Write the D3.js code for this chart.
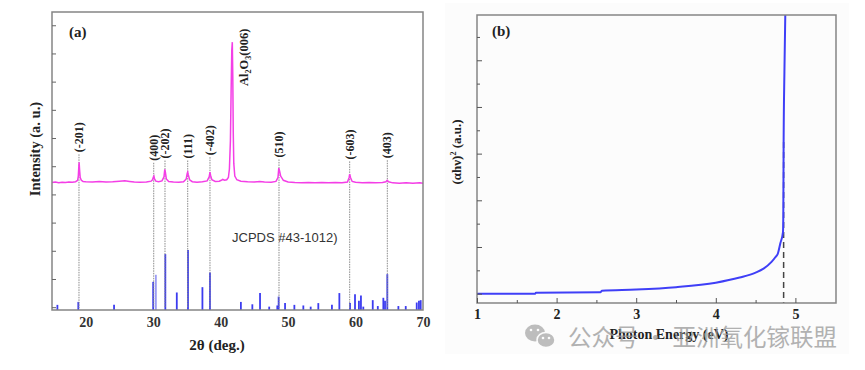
<!DOCTYPE html>
<html>
<head>
<meta charset="utf-8">
<script src="https://cdn.jsdelivr.net/npm/d3@7"></script>
<style>
  body { margin: 0; background: #fff; }
  svg { display: block; }
</style>
</head>
<body>
<svg width="865" height="370"></svg>
<script>
// ---- panel (a): XRD pattern ----
let xrdAngle = [ 15, 15.5, 16, 16.5, 17, 17.5, 18, 18.5, 18.8, 18.9, 18.97, 19.02, 19.08, 19.18, 19.35, 19.6,
  20, 21, 22, 23, 24, 25, 25.8, 26.5, 27.2, 28, 29, 29.7, 29.9, 30.03, 30.1, 30.2, 30.4, 30.8, 31.3, 31.6,
  31.72, 31.8, 31.95, 32.3, 33, 33.8, 34.5, 34.9, 35.05, 35.12, 35.2, 35.4, 35.8, 36.5, 37.3, 38, 38.3,
  38.42, 38.5, 38.7, 39.2, 39.8, 40.1, 40.3, 40.6, 40.9, 41.15, 41.3, 41.45, 41.55, 41.65, 41.73, 41.8,
  41.87, 41.95, 42.1, 42.4, 43, 44, 45, 45.8, 46.5, 47.5, 48.2, 48.5, 48.62, 48.72, 48.9, 49.3, 50, 51,
  52, 53, 54, 55, 56, 57, 58, 58.8, 59.05, 59.13, 59.25, 59.5, 60, 61, 62, 63, 64, 64.5, 64.7, 64.9,
  65.5, 66.5, 67.5, 68.5, 69.5, 70 ]
let xrdIntensity = [ 4.42, 4.44, 4.41, 4.43, 4.42, 4.44, 4.43, 4.45, 4.5, 4.65, 4.95, 5.14, 4.9, 4.6, 4.5, 4.46,
  4.45, 4.44, 4.46, 4.44, 4.45, 4.47, 4.48, 4.46, 4.44, 4.43, 4.44, 4.47, 4.52, 4.62, 4.65, 4.55, 4.47, 4.45, 4.48, 4.62,
  4.89, 4.8, 4.55, 4.46, 4.44, 4.43, 4.45, 4.55, 4.75, 4.79, 4.7, 4.52, 4.45, 4.43, 4.45, 4.48, 4.62,
  4.79, 4.68, 4.52, 4.46, 4.47, 4.5, 4.53, 4.5, 4.52, 4.6, 4.9, 5.9, 7.6, 9.1, 9.4, 8.2,
  6.2, 5.1, 4.65, 4.52, 4.47, 4.45, 4.44, 4.46, 4.44, 4.43, 4.46, 4.6, 4.93, 4.85, 4.65, 4.5, 4.44, 4.42,
  4.41, 4.42, 4.41, 4.42, 4.41, 4.42, 4.41, 4.44, 4.6, 4.72, 4.6, 4.46, 4.43, 4.41, 4.42, 4.41, 4.42, 4.45, 4.5, 4.45,
  4.41, 4.4, 4.41, 4.4, 4.41, 4.4 ]

// JCPDS #43-1012 reference lines (relative intensity)
let refAngle = [ 15.8, 18.9, 24.2, 30.0, 30.4, 31.8, 33.5, 35.16, 37.3, 38.42, 43.0, 44.7, 45.84, 47.2, 48.4, 48.6,
  49.55, 50.93, 52.26, 53.35, 54.48, 56.5, 57.6, 59.18, 59.92, 60.5, 60.8, 61.15, 62.55, 63.3, 64.12, 64.37,
  64.71, 66.35, 67.44, 69.07, 69.4, 69.66 ]
let refIntensity = [ 7, 12, 7, 46, 58, 93, 28, 100, 37, 62, 12, 8, 27, 4, 6, 21,
  10, 7, 6, 4, 10, 7, 27, 10, 25, 14, 23, 4, 15, 5, 19, 14,
  59, 5, 5, 11, 14, 15 ]

let peakLabels = [ '(-201)', '(400)', '(-202)', '(111)', '(-402)', '(510)', '(-603)', '(403)' ]
let peakAngle = [ 19.0, 30.08, 31.75, 35.12, 38.42, 48.65, 59.13, 64.71 ]
let peakLabelTop = [ 5.35, 5.05, 5.13, 5.13, 5.25, 5.17, 5.1, 5.14 ]

let xTicksA = [ 20, 30, 40, 50, 60, 70 ]

// ---- panel (b): Tauc plot ----
let photonEnergy = [ 1.0, 1.73, 1.74, 2.55, 2.57, 3.0, 3.5, 4.0, 4.3, 4.5, 4.6, 4.7, 4.75, 4.78, 4.81, 4.844,
  4.848, 4.852, 4.862, 4.874 ]
let taucValue = [ 0, 0.0, 0.04, 0.06, 0.13, 0.18, 0.28, 0.47, 0.69, 0.9, 1.07, 1.36, 1.57, 1.72, 2.15, 2.64,
  3.4, 6.5, 9.5, 12.2 ]
let bandGap = 4.852
let bandGapTop = 6.5

let xTicksB = [ 1, 2, 3, 4, 5 ]

const serif = '"Liberation Serif", "Times New Roman", serif'
const frameColor = '#858585'

let svg = d3.select( 'svg' )

svg.append( 'rect' )
  .attr( 'x', 445 ).attr( 'y', 3 )
  .attr( 'width', 404 ).attr( 'height', 351 )
  .attr( 'fill', '#fcfcfc' )

// ================= panel (a) =================
let a = { left: 52, right: 423, top: 12, bottom: 310 }

const xA =
d3.scaleLinear()
  .domain( [ 15, 70 ] )
  .range( [ a.left, a.right ] )

const yA =
d3.scaleLinear()
  .domain( [ -0.1, 10.47 ] )
  .range( [ a.bottom, a.top ] )

const yRef =
d3.scaleLinear()
  .domain( [ 0, 100 ] )
  .range( [ a.bottom - 1, a.bottom - 60 ] )

let gA = svg.append( 'g' )

// reference bars
gA.selectAll( '.ref' )
  .data( refAngle )
  .enter()
  .append( 'line' )
  .attr( 'x1', d => xA( d ) )
  .attr( 'x2', d => xA( d ) )
  .attr( 'y1', a.bottom )
  .attr( 'y2', ( d, i ) => yRef( refIntensity[ i ] ) )
  .attr( 'stroke', ( d, i ) => i === 4 ? '#9c9cf5' : '#3c3cf0' )
  .attr( 'stroke-width', 1.8 )

// dotted guide lines
gA.selectAll( '.guide' )
  .data( peakAngle )
  .enter()
  .append( 'line' )
  .attr( 'x1', d => xA( d ) )
  .attr( 'x2', d => xA( d ) )
  .attr( 'y1', ( d, i ) => yA( peakLabelTop[ i ] ) - 2 )
  .attr( 'y2', a.bottom - 2 )
  .attr( 'stroke', '#8a8a8a' )
  .attr( 'stroke-width', 1 )
  .attr( 'stroke-dasharray', '1.5,1' )

// XRD curve
let xrdLine =
d3.line()
  .x( ( d, i ) => xA( xrdAngle[ i ] ) )
  .y( d => yA( d ) )

gA.append( 'path' )
  .attr( 'd', xrdLine( xrdIntensity ) )
  .attr( 'fill', 'none' )
  .attr( 'stroke', '#f43ee6' )
  .attr( 'stroke-width', 1.5 )

// peak labels
gA.selectAll( '.plabel' )
  .data( peakLabels )
  .enter()
  .append( 'text' )
  .text( d => d )
  .attr( 'transform', ( d, i ) => `translate(${ xA( peakAngle[ i ] ) + 4 },${ yA( peakLabelTop[ i ] ) - 4 }) rotate(-90)` )
  .attr( 'font-family', serif )
  .attr( 'font-weight', 'bold' )
  .attr( 'font-size', 12 )
  .attr( 'fill', '#222' )

let alLabel =
gA.append( 'text' )
  .attr( 'transform', `translate(${ xA( 43.4 ) + 4 },86) rotate(-90)` )
  .attr( 'font-family', serif )
  .attr( 'font-weight', 'bold' )
  .attr( 'font-size', 12.5 )
  .attr( 'fill', '#222' )
alLabel.append( 'tspan' ).text( 'Al' )
alLabel.append( 'tspan' ).text( '2' ).attr( 'font-size', 8 ).attr( 'dy', 3 )
alLabel.append( 'tspan' ).text( 'O' ).attr( 'dy', -3 )
alLabel.append( 'tspan' ).text( '3' ).attr( 'font-size', 8 ).attr( 'dy', 3 )
alLabel.append( 'tspan' ).text( '(006)' ).attr( 'dy', -3 )

gA.append( 'text' )
  .text( 'JCPDS #43-1012)' )
  .attr( 'x', 232 )
  .attr( 'y', 242 )
  .attr( 'font-family', '"Liberation Sans", Arial, sans-serif' )
  .attr( 'font-size', 13 )
  .attr( 'fill', '#333' )

// frame and ticks
gA.append( 'rect' )
  .attr( 'x', a.left ).attr( 'y', a.top )
  .attr( 'width', a.right - a.left ).attr( 'height', a.bottom - a.top )
  .attr( 'fill', 'none' )
  .attr( 'stroke', frameColor )
  .attr( 'stroke-width', 1.5 )

gA.append( 'g' )
  .attr( 'transform', `translate(${ a.left },0)` )
  .call( d3.axisRight( yA ).tickValues( d3.range( 0, 11 ) ).tickSize( 4 ).tickFormat( '' ) )
  .call( g => g.select( '.domain' ).remove() )
  .call( g => g.selectAll( 'line' ).attr( 'stroke', '#666' ) )

gA.append( 'g' )
  .attr( 'transform', `translate(0,${ a.bottom })` )
  .call( d3.axisBottom( xA ).tickValues( xTicksA ).tickSize( 0 ).tickPadding( 7 ).tickFormat( d3.format( 'd' ) ) )
  .call( g => g.select( '.domain' ).remove() )
  .call( g => g.selectAll( 'text' )
    .attr( 'font-family', serif )
    .attr( 'font-weight', 'bold' )
    .attr( 'font-size', 14 )
    .attr( 'fill', '#333' ) )

gA.append( 'text' )
  .text( '2θ (deg.)' )
  .attr( 'x', 217 )
  .attr( 'y', 350 )
  .attr( 'text-anchor', 'middle' )
  .attr( 'font-family', serif )
  .attr( 'font-weight', 'bold' )
  .attr( 'font-size', 15 )
  .attr( 'fill', '#222' )

gA.append( 'text' )
  .text( 'Intensity (a. u.)' )
  .attr( 'transform', 'translate(40,149) rotate(-90)' )
  .attr( 'text-anchor', 'middle' )
  .attr( 'font-family', serif )
  .attr( 'font-weight', 'bold' )
  .attr( 'font-size', 14.5 )
  .attr( 'fill', '#222' )

gA.append( 'text' )
  .text( '(a)' )
  .attr( 'x', 69 )
  .attr( 'y', 37 )
  .attr( 'font-family', serif )
  .attr( 'font-weight', 'bold' )
  .attr( 'font-size', 15 )
  .attr( 'fill', '#222' )

// ================= panel (b) =================
let b = { left: 477, right: 836, top: 15, bottom: 303 }

const xB =
d3.scaleLinear()
  .domain( [ 1, 5.51 ] )
  .range( [ b.left, b.right ] )

const yB =
d3.scaleLinear()
  .domain( [ -0.4, 11.94 ] )
  .range( [ b.bottom, b.top ] )

let gB = svg.append( 'g' )

gB.append( 'clipPath' )
  .attr( 'id', 'clipB' )
  .append( 'rect' )
  .attr( 'x', b.left ).attr( 'y', b.top )
  .attr( 'width', b.right - b.left ).attr( 'height', b.bottom - b.top )

gB.append( 'line' )
  .attr( 'x1', xB( bandGap ) ).attr( 'x2', xB( bandGap ) )
  .attr( 'y1', yB( bandGapTop ) ).attr( 'y2', b.bottom )
  .attr( 'stroke', '#444' )
  .attr( 'stroke-width', 1.5 )
  .attr( 'stroke-dasharray', '6,4' )

let taucLine =
d3.line()
  .x( ( d, i ) => xB( photonEnergy[ i ] ) )
  .y( d => yB( d ) )
  .curve( d3.curveMonotoneX )

gB.append( 'path' )
  .attr( 'd', taucLine( taucValue ) )
  .attr( 'clip-path', 'url(#clipB)' )
  .attr( 'fill', 'none' )
  .attr( 'stroke', '#3f3ff7' )
  .attr( 'stroke-width', 2 )

gB.append( 'rect' )
  .attr( 'x', b.left ).attr( 'y', b.top )
  .attr( 'width', b.right - b.left ).attr( 'height', b.bottom - b.top )
  .attr( 'fill', 'none' )
  .attr( 'stroke', frameColor )
  .attr( 'stroke-width', 1.5 )

gB.append( 'g' )
  .attr( 'transform', `translate(${ b.left },0)` )
  .call( d3.axisRight( yB ).tickValues( d3.range( 0, 12 ) ).tickSize( 3 ).tickFormat( '' ) )
  .call( g => g.select( '.domain' ).remove() )
  .call( g => g.selectAll( 'line' ).attr( 'stroke', '#555' ).attr( 'x2', ( d, i ) => i % 2 ? 3 : 5 ) )

gB.append( 'g' )
  .attr( 'transform', `translate(0,${ b.bottom })` )
  .call( d3.axisTop( xB ).tickValues( d3.range( 1.5, 5.5, 1 ) ).tickSize( 3 ).tickFormat( '' ) )
  .call( g => g.select( '.domain' ).remove() )
  .call( g => g.selectAll( 'line' ).attr( 'stroke', '#555' ) )

gB.append( 'g' )
  .attr( 'transform', `translate(0,${ b.bottom })` )
  .call( d3.axisTop( xB ).tickValues( xTicksB ).tickSize( 5 ).tickFormat( '' ) )
  .call( g => g.select( '.domain' ).remove() )
  .call( g => g.selectAll( 'line' ).attr( 'stroke', '#555' ) )

gB.append( 'g' )
  .attr( 'transform', `translate(0,${ b.bottom })` )
  .call( d3.axisBottom( xB ).tickValues( xTicksB ).tickSize( 0 ).tickPadding( 6 ).tickFormat( d3.format( 'd' ) ) )
  .call( g => g.select( '.domain' ).remove() )
  .call( g => g.selectAll( 'text' )
    .attr( 'font-family', serif )
    .attr( 'font-weight', 'bold' )
    .attr( 'font-size', 14 )
    .attr( 'fill', '#222' ) )

gB.append( 'text' )
  .text( 'Photon Energy (eV)' )
  .attr( 'x', 669 )
  .attr( 'y', 339 )
  .attr( 'text-anchor', 'middle' )
  .attr( 'font-family', serif )
  .attr( 'font-weight', 'bold' )
  .attr( 'font-size', 14 )
  .attr( 'fill', '#222' )

let yTitleB =
gB.append( 'text' )
  .attr( 'transform', 'translate(461,152) rotate(-90)' )
  .attr( 'text-anchor', 'middle' )
  .attr( 'font-family', serif )
  .attr( 'font-weight', 'bold' )
  .attr( 'font-size', 13 )
  .attr( 'fill', '#222' )
yTitleB.append( 'tspan' ).text( '(αhν)' )
yTitleB.append( 'tspan' ).text( '2' ).attr( 'font-size', 8 ).attr( 'dy', -5 )
yTitleB.append( 'tspan' ).text( ' (a.u.)' ).attr( 'dy', 5 )

gB.append( 'text' )
  .text( '(b)' )
  .attr( 'x', 492 )
  .attr( 'y', 36 )
  .attr( 'font-family', serif )
  .attr( 'font-weight', 'bold' )
  .attr( 'font-size', 15 )
  .attr( 'fill', '#222' )

// ---- watermark ----
let wm = svg.append( 'g' ).attr( 'opacity', 0.75 )

wm.append( 'ellipse' )
  .attr( 'cx', 535 ).attr( 'cy', 333 ).attr( 'rx', 10 ).attr( 'ry', 8.5 )
  .attr( 'fill', '#a9a9a9' )
wm.append( 'ellipse' )
  .attr( 'cx', 546 ).attr( 'cy', 340 ).attr( 'rx', 9 ).attr( 'ry', 7.5 )
  .attr( 'fill', '#a9a9a9' ).attr( 'stroke', '#fcfcfc' ).attr( 'stroke-width', 1.5 )
wm.selectAll( '.eye' )
  .data( [ [ 531, 330 ], [ 538, 330 ], [ 543, 338 ], [ 549, 338 ] ] )
  .enter()
  .append( 'circle' )
  .attr( 'cx', d => d[ 0 ] ).attr( 'cy', d => d[ 1 ] ).attr( 'r', 1.3 )
  .attr( 'fill', '#fcfcfc' )

wm.append( 'text' )
  .text( '公众号 · 亚洲氧化镓联盟' )
  .attr( 'x', 837 )
  .attr( 'y', 346 )
  .attr( 'text-anchor', 'end' )
  .attr( 'font-family', '"Noto Sans CJK SC", sans-serif' )
  .attr( 'font-size', 23.5 )
  .attr( 'fill', '#999' )
</script>
</body>
</html>
